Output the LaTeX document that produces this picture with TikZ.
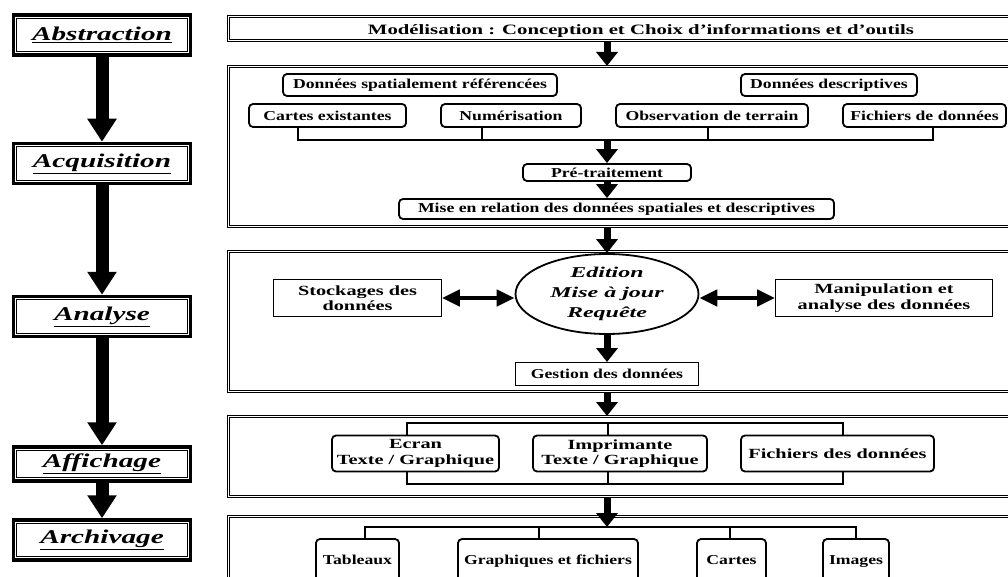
\documentclass[tikz,border=0pt]{standalone}
\usepackage{fontspec}
\setmainfont{Liberation Serif}
\newfontfamily\boxfont[FakeStretch=1.3]{Liberation Serif}
\newfontfamily\widefont[FakeStretch=1.45]{Liberation Serif}
\newfontfamily\stagefont[FakeStretch=1.6]{Liberation Serif}
\newfontfamily\labelfont[FakeStretch=1.5]{Liberation Serif}
\usetikzlibrary{arrows.meta,shapes.geometric}

\begin{document}
\begin{tikzpicture}[x=1pt, y=-1pt]
    \tikzstyle{stage}=[draw, line width=3.5pt, minimum width=177pt, inner sep=0pt,
        font=\labelfont\bfseries\itshape\fontsize{19.5}{21}\selectfont,
        path picture={\draw[line width=1pt] ([shift={(3.3pt,3.3pt)}]path picture bounding box.south west)
            rectangle ([shift={(-3.3pt,-3.3pt)}]path picture bounding box.north east);}]
    \tikzstyle{panel}=[draw, line width=1pt, double, double distance=1.3pt, inner sep=0pt, minimum width=787pt]
    \tikzstyle{item}=[draw, rounded corners=4pt, line width=1.8pt, inner sep=0pt, align=center,
        font=\boxfont\bfseries\fontsize{13.6}{15}\selectfont]
    \tikzstyle{big item}=[item, font=\widefont\bfseries\fontsize{14}{15.5}\selectfont]
    \tikzstyle{plain}=[draw, line width=0.9pt, inner sep=0pt, align=center,
        font=\boxfont\bfseries\fontsize{13.6}{15}\selectfont]
    \tikzstyle{big plain}=[plain, font=\widefont\bfseries\fontsize{14}{15.5}\selectfont]
    \tikzstyle{bus}=[line width=2.4pt]
    \tikzstyle{bigarrow}=[-{Triangle[width=28pt,length=23pt]}, line width=13pt]
    \tikzstyle{midarrow}=[-{Triangle[width=21pt,length=14pt]}, line width=7pt]
    \tikzstyle{dblarrow}=[{Triangle[width=16pt,length=18pt]}-{Triangle[width=16pt,length=18pt]}, line width=4.5pt]

    \useasboundingbox (0,0) rectangle (1008,577);
    \clip (0,0) rectangle (1008,577);

    % Draw the stages on the left
    \foreach \name/\y/\h/\txt in {abs/35/40/Abstraction, acq/163.5/40/Acquisition,
        ana/316.5/40/Analyse, aff/464/34/Affichage, arc/540/40/Archivage}
        \node[stage, minimum height=\h pt] (S-\name) at (102,\y) {\underline{\txt}};
    \foreach \source/\dest in {abs/acq, acq/ana, ana/aff, aff/arc}
        \draw[bigarrow] (S-\source.south) -- (S-\dest.north);

    % Draw the panels
    \node[panel, minimum height=24pt] (P-0) at (622,28.5) {};
    \node[panel, minimum height=160pt] (P-1) at (622,146.5) {};
    \node[panel, minimum height=140pt] (P-2) at (622,321.5) {};
    \node[panel, minimum height=80pt] (P-3) at (622,456.5) {};
    \node[panel, minimum height=100pt] (P-4) at (622,566.5) {};
    \node[font=\widefont\bfseries\fontsize{14.3}{15}\selectfont] (titre) at (641,31)
        {Modélisation : Conception et Choix d’informations et d’outils};

    % Acquisition
    \node[item, minimum width=274pt, minimum height=22pt] (dsr) at (420,85) {Données spatialement référencées};
    \node[item, minimum width=176pt, minimum height=22pt] (ddesc) at (829,85) {Données descriptives};
    \node[item, minimum width=157pt, minimum height=23pt] (cartes) at (327.5,115.5) {Cartes existantes};
    \node[item, minimum width=140pt, minimum height=23pt] (numer) at (511,115.5) {Numérisation};
    \node[item, minimum width=192pt, minimum height=23pt] (observ) at (712,115.5) {Observation de terrain};
    \node[item, minimum width=163pt, minimum height=23pt] (fichd) at (924.5,115.5) {Fichiers de données};
    \node[item, minimum width=168pt, minimum height=17pt] (pretrait) at (607,172.5) {Pré-traitement};
    \node[item, minimum width=435pt, minimum height=20pt] (relation) at (616.5,209)
        {Mise en relation des données spatiales et descriptives};
    \coordinate (J-1) at (607,140);
    \draw[bus] ([xshift=-29.5pt]cartes.south) |- (J-1) -| ([xshift=8.5pt]fichd.south);
    \foreach \n/\dx in {numer/-29, observ/-4}
        \draw[bus] ([xshift=\dx pt]\n.south) |- (J-1);
    \draw[midarrow] (P-0.south -| pretrait) -- (P-1.north -| pretrait);
    \draw[midarrow] (J-1) -- (pretrait.north);
    \draw[midarrow] (pretrait.south) -- (relation.north -| pretrait);

    % Analyse
    \node[draw, ellipse, line width=1.8pt, minimum width=183pt, minimum height=80pt, inner sep=0pt, align=center,
        font=\stagefont\bfseries\itshape\fontsize{15}{20}\selectfont] (edit) at (607,294)
        {Edition\\Mise à jour\\Requête};
    \node[big plain, minimum width=168pt, minimum height=37pt] (stock) at (357.5,298) {Stockages des\\données};
    \node[big plain, minimum width=217pt, minimum height=37pt] (manip) at (884,298) {Manipulation et\\analyse des données};
    \node[plain, minimum width=183pt, minimum height=23pt] (gestion) at (607,374) {Gestion des données};
    \draw[midarrow] (P-1.south -| edit) -- (edit.north);
    \draw[dblarrow] (stock.east) -- (stock.east -| edit.west);
    \draw[dblarrow] (manip.west -| edit.east) -- (manip.west);
    \draw[midarrow] (edit.south) -- (gestion.north);

    % Affichage
    \node[big item, minimum width=167pt, minimum height=36pt] (ecran) at (415.5,453.5) {Ecran\\Texte / Graphique};
    \node[big item, minimum width=174pt, minimum height=36pt] (imprim) at (620,453.5) {Imprimante\\Texte / Graphique};
    \node[big item, minimum width=193pt, minimum height=36pt] (fichdon) at (837.5,453.5) {Fichiers des données};
    \coordinate (J-3) at (607,423);
    \coordinate (J-4) at (607,484);
    \draw[bus] ([xshift=-8.5pt]ecran.north) |- (J-3) -| ([xshift=5.5pt]fichdon.north);
    \draw[bus] ([xshift=-8.5pt]ecran.south) |- (J-4) -| ([xshift=5.5pt]fichdon.south);
    \draw[bus] ([xshift=-12pt]imprim.north) |- (J-3);
    \draw[bus] ([xshift=-12pt]imprim.south) |- (J-4);
    \draw[midarrow] (P-2.south -| J-3) -- (P-3.north -| J-3);

    % Archivage
    \tikzstyle{leaf}=[item, minimum height=44pt, text height=10pt, text depth=3pt]
    \node[leaf, minimum width=83pt] (tabl) at (357.5,561) {Tableaux};
    \node[leaf, minimum width=180pt] (graph) at (548,561) {Graphiques et fichiers};
    \node[leaf, minimum width=69pt] (cartes2) at (731.5,561) {Cartes};
    \node[leaf, minimum width=66pt] (images) at (856,561) {Images};
    \coordinate (J-5) at (607,527);
    \draw[bus] ([xshift=7.5pt]tabl.north) |- (J-5) -| (images.north);
    \draw[bus] ([xshift=-9pt]graph.north) |- (J-5);
    \draw[bus] ([xshift=-1.5pt]cartes2.north) |- (J-5);
    \draw[midarrow] (P-3.south -| J-5) -- (J-5);
\end{tikzpicture}
\end{document}
